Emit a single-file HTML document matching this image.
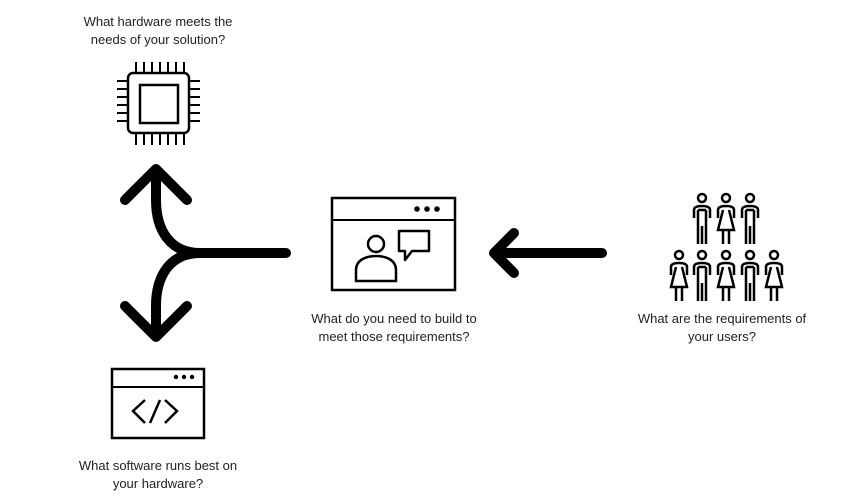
<!DOCTYPE html>
<html><head><style>
body{margin:0;background:#fff;width:868px;height:504px;overflow:hidden;position:relative;font-family:"Liberation Sans",sans-serif}
.t{position:absolute;font-size:13px;line-height:18px;color:#222;text-align:center;width:240px}
</style></head><body>
<div class="t" style="left:38px;top:13px">What hardware meets the<br>needs of your solution?</div>
<div class="t" style="left:274px;top:310px">What do you need to build to<br>meet those requirements?</div>
<div class="t" style="left:602px;top:310px">What are the requirements of<br>your users?</div>
<div class="t" style="left:38px;top:457px">What software runs best on<br>your hardware?</div>
<svg width="868" height="504" style="position:absolute;left:0;top:0" fill="none" stroke="#000">
<!-- chip -->
<rect x="128" y="73" width="61" height="60" rx="5" stroke-width="2.5"/>
<rect x="140" y="85" width="38" height="38" stroke-width="2.5"/>
<g stroke-width="2">
<path d="M136 62v11M144 62v11M152 62v11M160 62v11M168 62v11M176 62v11M184 62v11"/>
<path d="M136 133v12M144 133v12M152 133v12M160 133v12M168 133v12M176 133v12M184 133v12"/>
<path d="M117 81h11M117 89h11M117 97h11M117 105h11M117 113h11M117 121h11"/>
<path d="M189 81h11M189 89h11M189 97h11M189 105h11M189 113h11M189 121h11"/>
</g>
<!-- split arrow -->
<g stroke-width="10" stroke-linecap="round" stroke-linejoin="round">
<path d="M286 253H200C170 253 156 230 156 200V172"/>
<path d="M200 253C170 253 156 276 156 306V334"/>
<path d="M125 200L156 169L187 200"/>
<path d="M125 306L156 337L187 306"/>
<path d="M602 253H494M514 233L494 253L514 273"/>
</g>
<!-- middle window -->
<rect x="332" y="198" width="123" height="92" stroke-width="2.5"/>
<path d="M332 220H455" stroke-width="2"/>
<g fill="#000" stroke="none"><circle cx="417" cy="209" r="2.8"/><circle cx="427" cy="209" r="2.8"/><circle cx="437" cy="209" r="2.8"/>
<circle cx="176" cy="377" r="2.2"/><circle cx="184" cy="377" r="2.2"/><circle cx="192" cy="377" r="2.2"/></g>
<circle cx="376" cy="244" r="8" stroke-width="2.5"/>
<path d="M356 281V270C356 260 366 256 376 256S396 260 396 270V281Z" stroke-width="2.5"/>
<path d="M399 231H429V251H412L405 260V251H399Z" stroke-width="2.5" stroke-linejoin="round"/>
<!-- code window -->
<rect x="112" y="369" width="92" height="69" stroke-width="2.5"/>
<path d="M112 387H204" stroke-width="2"/>
<path d="M145 400L133 411L145 423M150 423L160 400M165 400L177 411L165 423" stroke-width="2.5"/>
<!-- people -->
<g stroke-width="2.5">
<g id="m"><circle cx="0" cy="0" r="4"/><path d="M-8 18V11C-8 8 -5 7 0 7S8 8 8 11V18M-4 11V42M4 11V42M0 24V42"/></g>
</g>
<g stroke-width="2.5">
<defs>
<g id="man"><circle cx="0" cy="0" r="4"/><path d="M-8 20V12C-8 9 -5 8 0 8S8 9 8 12V20M-4 12V46M4 12V46M0 28V46M-4 12H4"/></g>
<g id="wom"><circle cx="0" cy="0" r="4"/><path d="M-8 20V12C-8 9 -5 8 0 8S8 9 8 12V20M-3 12L-8 32H8L3 12M-3 32V46M3 32V46"/></g>
</defs>
<use href="#man" x="702" y="198"/><use href="#wom" x="726" y="198"/><use href="#man" x="750" y="198"/>
<use href="#wom" x="679" y="255"/><use href="#man" x="702" y="255"/><use href="#wom" x="726" y="255"/><use href="#man" x="750" y="255"/><use href="#wom" x="774" y="255"/>
</g>
</svg>
<style>#m{display:none}</style>
</body></html>
